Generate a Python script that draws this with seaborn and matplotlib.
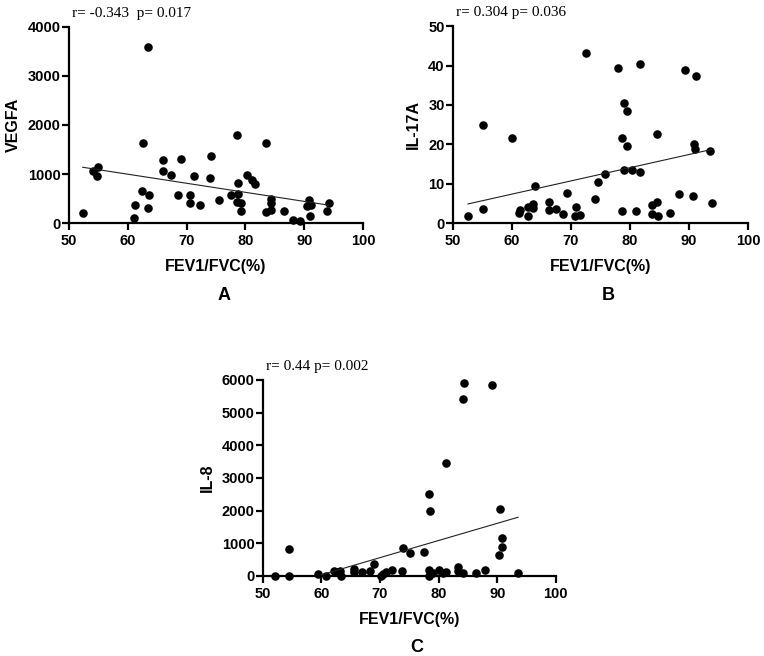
import matplotlib
matplotlib.use("Agg")
import matplotlib.pyplot as plt
import numpy as np
import pandas as pd
import seaborn as sns

# panel A: VEGFA vs FEV1/FVC
fev_a = [52.3, 54.1, 54.9, 54.8, 61.0, 61.2, 62.6, 62.4, 63.4, 63.6, 63.4, 66.0,
         66.0, 67.3, 69.1, 68.5, 70.5, 70.5, 71.2, 72.3, 74.0, 74.2, 75.5, 77.6,
         78.5, 78.5, 78.8, 78.8, 79.3, 79.3, 80.2, 81.1, 81.7, 83.5, 83.5, 84.4,
         84.4, 84.4, 86.5, 88.1, 89.2, 90.8, 90.4, 91.1, 90.9, 93.8, 94.2]
vegfa = [210, 1061, 1143, 959, 95, 367, 1626, 660, 3592, 578, 306, 1293,
         1068, 973, 1306, 571, 571, 415, 966, 374, 925, 1367, 476, 578,
         1796, 435, 599, 823, 401, 238, 973, 871, 789, 1633, 231, 497,
         401, 265, 245, 61, 34, 463, 347, 367, 136, 238, 401]

# panel B: IL-17A vs FEV1/FVC
fev_b = [52.5, 55.1, 55.1, 60.0, 61.1, 61.4, 62.7, 62.7, 63.5, 63.5, 63.9, 66.2,
         66.2, 67.4, 68.7, 69.4, 70.8, 70.7, 71.5, 72.5, 74.1, 74.5, 75.7, 77.9,
         78.6, 79.0, 79.5, 79.5, 78.9, 78.6, 80.4, 81.7, 81.7, 81.1, 83.7, 83.7,
         84.5, 84.7, 84.5, 86.7, 88.3, 89.3, 91.2, 90.8, 91.1, 90.6, 93.5, 93.9]
il17a = [1.9, 3.5, 24.8, 21.6, 2.5, 3.4, 1.9, 4.2, 4.8, 3.9, 9.5, 5.3,
         3.4, 3.5, 2.4, 7.6, 4.0, 1.7, 2.1, 43.1, 6.1, 10.4, 12.5, 39.5,
         21.6, 30.6, 28.4, 19.5, 13.4, 3.1, 13.4, 40.4, 12.9, 3.1, 4.6, 2.2,
         5.4, 1.9, 22.7, 2.6, 7.3, 38.8, 37.3, 20.0, 18.8, 6.8, 18.4, 5.1]

# panel C: IL-8 vs FEV1/FVC
fev_c = [52.0, 54.4, 54.4, 59.4, 60.8, 62.2, 62.9, 63.2, 63.4, 65.6, 65.6, 66.9,
         68.3, 68.9, 70.2, 70.5, 71.0, 72.0, 73.7, 74.0, 75.2, 77.5, 78.4, 78.6,
         78.3, 78.3, 79.1, 80.0, 80.7, 81.3, 81.3, 83.3, 83.3, 84.2, 84.3, 84.2,
         86.3, 88.0, 89.1, 90.5, 90.8, 90.8, 90.3, 93.6]
il8 = [10, 816, 10, 61, 10, 163, 133, 163, 10, 204, 112, 112,
       163, 378, 10, 61, 112, 184, 153, 867, 694, 745, 2510, 2000,
       184, 10, 82, 184, 92, 3449, 112, 286, 163, 82, 5898, 5408,
       82, 184, 5847, 2041, 1163, 898, 643, 82]

stats = ["r= -0.343  p= 0.017", "r= 0.304 p= 0.036", "r= 0.44 p= 0.002"]
ylabels = ["VEGFA", "IL-17A", "IL-8"]
yticks = [[0, 1000, 2000, 3000, 4000], [0, 10, 20, 30, 40, 50],
          [0, 1000, 2000, 3000, 4000, 5000, 6000]]
letters = ["A", "B", "C"]

sns.set_style("ticks")
plt.rcParams["font.family"] = ["Liberation Sans", "DejaVu Sans"]
plt.rcParams.update({"text.color": "black", "axes.labelcolor": "black",
                     "axes.edgecolor": "black", "xtick.color": "black",
                     "ytick.color": "black"})

fig = plt.figure(figsize=(7.64, 6.56), dpi=100)
boxes = [[0.0903, 0.660, 0.385, 0.299],
         [0.593, 0.660, 0.386, 0.300],
         [0.344, 0.122, 0.3835, 0.299]]
panels = [(fev_a, vegfa), (fev_b, il17a), (fev_c, il8)]

for i, (xs, ys) in enumerate(panels):
    ax = fig.add_axes(boxes[i])
    df = pd.DataFrame({"fev": xs, "val": ys})
    sns.regplot(data=df, x="fev", y="val", ax=ax, ci=None, color="black",
                scatter_kws={"s": 38, "alpha": 1, "clip_on": False, "linewidths": 0},
                line_kws={"linewidth": 0.8, "color": "#222222"})
    ax.set_xlim(50, 100)
    ax.set_ylim(yticks[i][0], yticks[i][-1])
    ax.set_xticks([50, 60, 70, 80, 90, 100])
    ax.set_yticks(yticks[i])
    sns.despine(ax=ax)
    for s in ["left", "bottom"]:
        ax.spines[s].set_linewidth(1.6)
    ax.tick_params(width=1.6, length=5, labelsize=10.5)
    ax.tick_params(axis="y", pad=1)
    ax.tick_params(axis="x", pad=3)
    for t in ax.get_xticklabels() + ax.get_yticklabels():
        t.set_fontweight("bold")
    ax.set_xlabel("FEV1/FVC(%)", fontsize=11.5, fontweight="bold", labelpad=8)
    ax.set_ylabel(ylabels[i], fontsize=11.5, fontweight="bold", labelpad=5)
    ax.text(0.01, 1.035, stats[i], transform=ax.transAxes, fontsize=11,
            family=["Liberation Serif", "DejaVu Serif"], va="bottom", ha="left")
    ax.text(0.527, -0.367, letters[i], transform=ax.transAxes, fontsize=13,
            fontweight="bold", ha="center", va="center")

fig.savefig("out.png", dpi=100)
